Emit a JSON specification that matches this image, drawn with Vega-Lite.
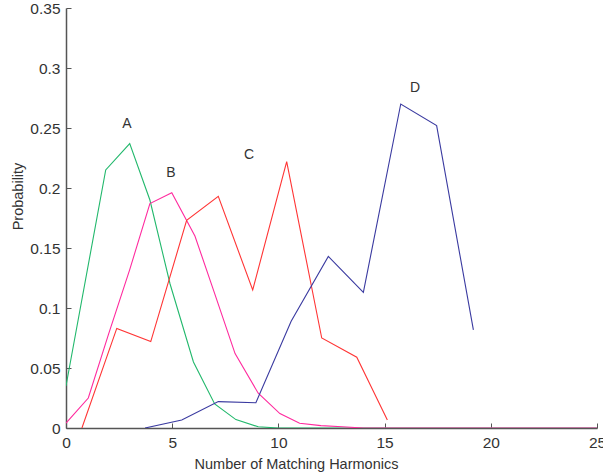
{
  "$schema": "https://vega.github.io/schema/vega-lite/v6.json",
  "autosize": {"type": "none"},
  "padding": {"left": 66, "top": 8, "right": 6, "bottom": 47},
  "width": 531,
  "height": 420,
  "background": "white",
  "config": {
    "view": {"stroke": null},
    "font": "Liberation Sans",
    "axis": {"grid": false, "domainColor": "#555555", "tickColor": "#555555", "labelColor": "#333333", "titleColor": "#333333", "labelFont": "Liberation Sans", "titleFont": "Liberation Sans", "labelFontSize": 15.5, "titleFontSize": 14.5, "titleFontWeight": "normal", "tickSize": -5, "domainWidth": 1.5, "labelFlush": false, "labelOverlap": false}
  },
  "datasets": {
    "curves": [
      {"series": "A", "x": 0, "y": 0.035},
      {"series": "A", "x": 1.87, "y": 0.215},
      {"series": "A", "x": 3.0, "y": 0.237},
      {"series": "A", "x": 3.95, "y": 0.19},
      {"series": "A", "x": 4.9, "y": 0.12},
      {"series": "A", "x": 6.0, "y": 0.055},
      {"series": "A", "x": 7.0, "y": 0.02},
      {"series": "A", "x": 8.0, "y": 0.007},
      {"series": "A", "x": 9.05, "y": 0.001},
      {"series": "A", "x": 10, "y": 0},
      {"series": "A", "x": 25, "y": 0},
      {"series": "B", "x": 0, "y": 0.004},
      {"series": "B", "x": 1.05, "y": 0.025},
      {"series": "B", "x": 2.0, "y": 0.078},
      {"series": "B", "x": 3.0, "y": 0.132},
      {"series": "B", "x": 3.95, "y": 0.187},
      {"series": "B", "x": 4.98, "y": 0.196},
      {"series": "B", "x": 6.07, "y": 0.16},
      {"series": "B", "x": 7.0, "y": 0.112},
      {"series": "B", "x": 7.96, "y": 0.062},
      {"series": "B", "x": 9.05, "y": 0.029},
      {"series": "B", "x": 10.07, "y": 0.012},
      {"series": "B", "x": 11.0, "y": 0.004},
      {"series": "B", "x": 12.0, "y": 0.002},
      {"series": "B", "x": 13.0, "y": 0.001},
      {"series": "B", "x": 14.0, "y": 0},
      {"series": "B", "x": 25, "y": 0},
      {"series": "C", "x": 0.75, "y": 0},
      {"series": "C", "x": 2.39, "y": 0.083},
      {"series": "C", "x": 3.99, "y": 0.072},
      {"series": "C", "x": 5.68, "y": 0.173},
      {"series": "C", "x": 7.17, "y": 0.193},
      {"series": "C", "x": 8.79, "y": 0.115},
      {"series": "C", "x": 10.39, "y": 0.222},
      {"series": "C", "x": 12.04, "y": 0.075},
      {"series": "C", "x": 13.69, "y": 0.059},
      {"series": "C", "x": 15.13, "y": 0.0067},
      {"series": "D", "x": 3.72, "y": 0},
      {"series": "D", "x": 5.45, "y": 0.0067},
      {"series": "D", "x": 7.17, "y": 0.022},
      {"series": "D", "x": 8.94, "y": 0.021},
      {"series": "D", "x": 10.6, "y": 0.089},
      {"series": "D", "x": 12.35, "y": 0.143},
      {"series": "D", "x": 14.0, "y": 0.113},
      {"series": "D", "x": 15.76, "y": 0.27},
      {"series": "D", "x": 17.45, "y": 0.252},
      {"series": "D", "x": 19.18, "y": 0.0817}
    ],
    "labels": [
      {"series": "A", "x": 2.87, "y": 0.253},
      {"series": "B", "x": 4.94, "y": 0.2125},
      {"series": "C", "x": 8.62, "y": 0.2275},
      {"series": "D", "x": 16.43, "y": 0.283}
    ]
  },
  "layer": [
    {
      "data": {"name": "curves"},
      "mark": {"type": "line", "strokeWidth": 1.1, "clip": true},
      "encoding": {
        "x": {"field": "x", "type": "quantitative", "scale": {"domain": [0, 25], "nice": false, "zero": false},
              "axis": {"values": [0, 5, 10, 15, 20, 25], "title": "Number of Matching Harmonics", "labelPadding": 12, "titleX": 230, "titleY": 40, "titleBaseline": "alphabetic", "titleAnchor": null}},
        "y": {"field": "y", "type": "quantitative", "scale": {"domain": [0, 0.35], "nice": false},
              "axis": {"values": [0, 0.05, 0.1, 0.15, 0.2, 0.25, 0.3, 0.35], "format": ".2~f", "title": "Probability", "labelPadding": 11, "titleX": -48, "titleY": 188, "titleBaseline": "middle", "titleAngle": -90}},
        "color": {"field": "series", "type": "nominal", "legend": null,
                  "scale": {"domain": ["A", "B", "C", "D"], "range": ["#22B86C", "#FF2A9E", "#FF3535", "#3A3AA0"]}},
        "order": {"field": "x", "type": "quantitative"}
      }
    },
    {
      "data": {"name": "labels"},
      "mark": {"type": "text", "fontSize": 14, "color": "#333333", "baseline": "middle", "align": "center"},
      "encoding": {
        "x": {"field": "x", "type": "quantitative"},
        "y": {"field": "y", "type": "quantitative"},
        "text": {"field": "series"}
      }
    }
  ]
}
